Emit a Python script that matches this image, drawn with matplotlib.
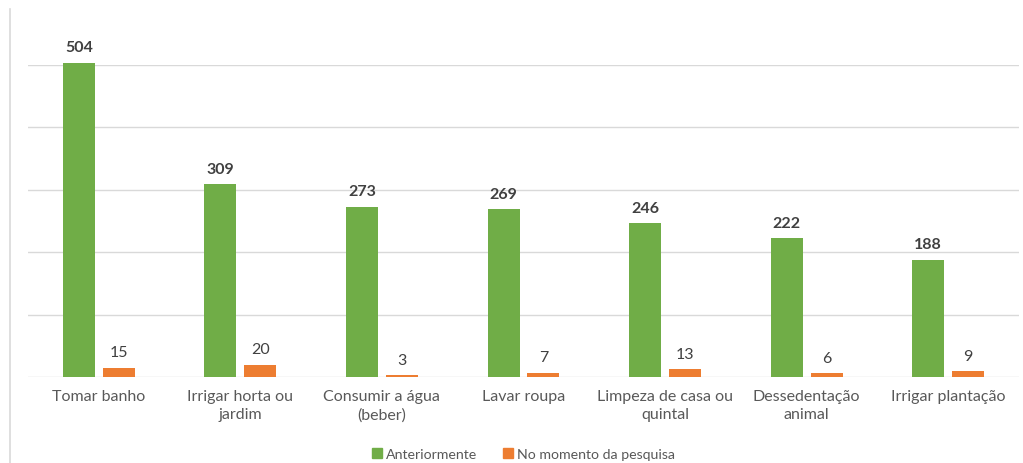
import numpy as np
import matplotlib.pyplot as plt
from matplotlib.lines import Line2D

# Uses of water: before vs at the time of the survey
categorias = ['Tomar banho', 'Irrigar horta ou\njardim', 'Consumir a água\n(beber)',
              'Lavar roupa', 'Limpeza de casa ou\nquintal', 'Dessedentação\nanimal',
              'Irrigar plantação']
anteriormente = [504, 309, 273, 269, 246, 222, 188]
no_momento = [15, 20, 3, 7, 13, 6, 9]

verde = '#70AD47'
laranja = '#ED7D31'
cinza = '#595959'

plt.rcParams['font.family'] = ['Lato', 'DejaVu Sans']

fig = plt.figure(figsize=(10.23, 4.64), dpi=100)
ax = fig.add_axes([28/1023, 86/464, 991/1023, 312/464])

x = np.arange(len(categorias))
w = 0.226
off = 0.141
b1 = ax.bar(x - off, anteriormente, w, color=verde, clip_on=False, zorder=3)
b2 = ax.bar(x + off, no_momento, w, color=laranja, clip_on=False, zorder=3)

# value labels
for r, v in zip(b1, anteriormente):
    ax.annotate(str(v), (r.get_x() + r.get_width()/2, v), xytext=(0, 6),
                textcoords='offset points', ha='center', va='bottom',
                fontsize=11.5, fontweight='bold', color='#404040', annotation_clip=False)
for r, v in zip(b2, no_momento):
    ax.annotate(str(v), (r.get_x() + r.get_width()/2, v), xytext=(0, 6),
                textcoords='offset points', ha='center', va='bottom',
                fontsize=11.5, color='#404040', annotation_clip=False)

ax.set_xlim(-0.5, len(categorias) - 0.5)
ax.set_ylim(0, 500)
ax.set_yticks(np.arange(0, 501, 100))
ax.set_yticklabels([])
ax.tick_params(axis='y', length=0)
ax.grid(axis='y', color='#D9D9D9', linewidth=1, zorder=0)
ax.set_xticks(x)
ax.set_xticklabels(categorias, fontsize=11.5, color=cinza, linespacing=1.35)
ax.tick_params(axis='x', length=0, pad=9)
for s in ax.spines.values():
    s.set_visible(False)

# thin vertical rule on the left edge of the figure
fig.add_artist(Line2D([10/1023, 10/1023], [0, 1 - 10/464], color='#D9D9D9', linewidth=1.2))

handles = [plt.Rectangle((0, 0), 1, 1, color=verde), plt.Rectangle((0, 0), 1, 1, color=laranja)]
fig.legend(handles, ['Anteriormente', 'No momento da pesquisa'], loc='center',
           bbox_to_anchor=(0.512, 9/464), ncol=2, frameon=False, fontsize=10.2,
           handlelength=0.7, handleheight=0.7, handletextpad=0.3, columnspacing=1.8,
           labelcolor=cinza)

fig.savefig('out.png', dpi=100)
